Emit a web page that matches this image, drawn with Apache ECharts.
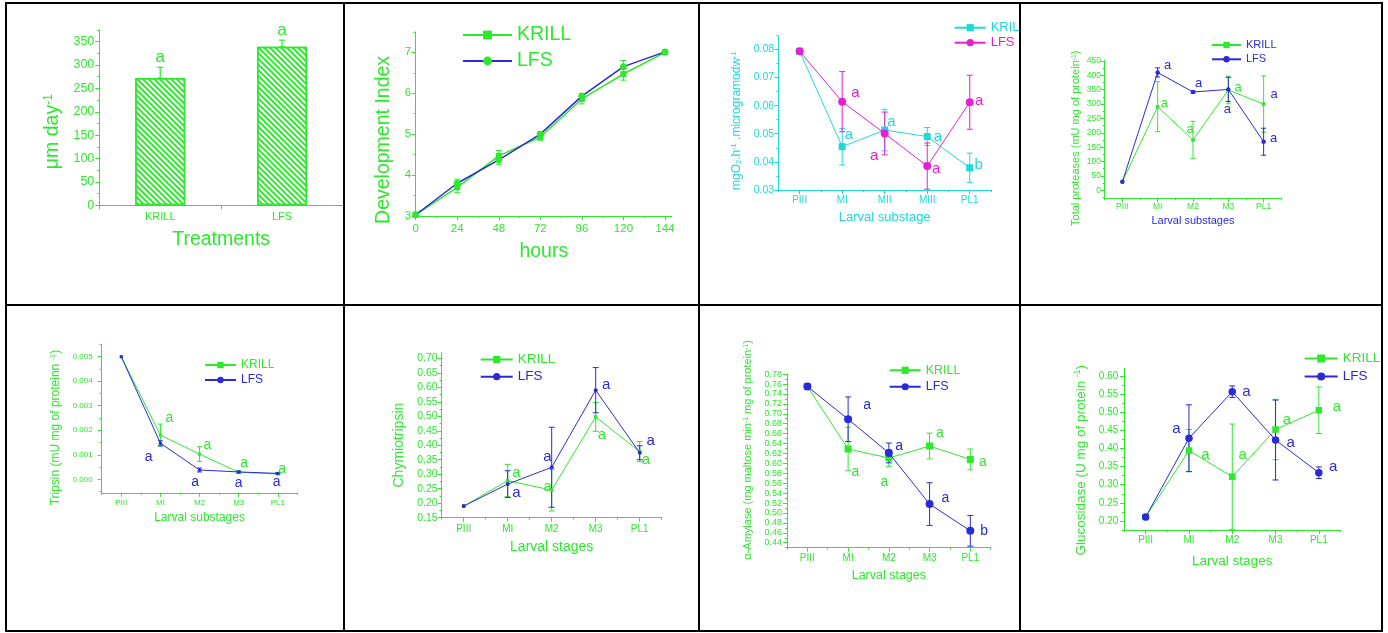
<!DOCTYPE html>
<html>
<head>
<meta charset="utf-8">
<title>Larval growth, development, respiration and digestive enzymes</title>
<script src="https://cdn.jsdelivr.net/npm/echarts@6.0.0/dist/echarts.min.js"></script>
<style>
html,body{margin:0;padding:0;background:#fff;}
body{width:1388px;height:633px;position:relative;overflow:hidden;}
.cell{position:absolute;overflow:hidden;}
.rule{position:absolute;background:#000;}
</style>
</head>
<body>
<div class="rule" style="left:5px;top:2px;width:1378px;height:2px"></div>
<div class="rule" style="left:5px;top:304px;width:1378px;height:2px"></div>
<div class="rule" style="left:5px;top:630px;width:1378px;height:2px"></div>
<div class="rule" style="left:5px;top:2px;width:2px;height:630px"></div>
<div class="rule" style="left:343px;top:2px;width:2px;height:630px"></div>
<div class="rule" style="left:698px;top:2px;width:2px;height:630px"></div>
<div class="rule" style="left:1019px;top:2px;width:2px;height:630px"></div>
<div class="rule" style="left:1381px;top:2px;width:2px;height:630px"></div>
<div id="c1" class="cell"></div>
<div id="c2" class="cell"></div>
<div id="c3" class="cell"></div>
<div id="c4" class="cell"></div>
<div id="c5" class="cell"></div>
<div id="c6" class="cell"></div>
<div id="c7" class="cell"></div>
<div id="c8" class="cell"></div>
<script>
// ================= DATA =================
const seriesNames = ['KRILL', 'LFS'];
const stagesRoman = ['PIII', 'MI', 'MII', 'MIII', 'PL1'];
const stagesM = ['PIII', 'MI', 'M2', 'M3', 'PL1'];

// Panel 1 - growth (bars)
const p1Treatments = ['KRILL', 'LFS'];
const p1Growth = [272, 339];
const p1GrowthErr = [23, 14];
const p1Letters = ['a', 'a'];
const p1YTicks = [0, 50, 100, 150, 200, 250, 300, 350];

// Panel 2 - development index
const p2Hours = [0, 24, 48, 72, 96, 120, 144];
const p2Krill = [3.03, 3.70, 4.47, 4.93, 5.86, 6.47, 7.00];
const p2KrillErr = [0, 0.13, 0.13, 0.08, 0.12, 0.15, 0.03];
const p2Lfs = [3.03, 3.80, 4.37, 5.00, 5.93, 6.65, 7.01];
const p2LfsErr = [0, 0.10, 0.12, 0.06, 0.06, 0.15, 0.03];
const p2XTicks = [0, 24, 48, 72, 96, 120, 144];
const p2YTicks = [3, 4, 5, 6, 7];

// Panel 3 - oxygen consumption
const p3Krill = [0.0793, 0.0454, 0.0513, 0.0490, 0.0379];
const p3KrillErr = [0, 0.0065, 0.0074, 0.0032, 0.0052];
const p3Lfs = [0.0793, 0.0614, 0.0501, 0.0385, 0.0612];
const p3LfsErr = [0, 0.0107, 0.0076, 0.0082, 0.0096];
const p3KrillLetters = [[1.16, 0.0495, 'a'], [2.16, 0.0541, 'a'], [3.25, 0.0490, 'a'], [4.21, 0.0391, 'b']];
const p3LfsLetters = [[1.31, 0.0646, 'a'], [1.75, 0.0421, 'a'], [3.21, 0.0375, 'a'], [4.22, 0.0616, 'a']];
const p3YTicks = [0.03, 0.04, 0.05, 0.06, 0.07, 0.08];

// Panel 4 - total proteases
const p4Krill = [30, 291, 175, 349, 300];
const p4KrillErr = [0, 87, 65, 48, 98];
const p4Lfs = [30, 410, 342, 351, 169];
const p4LfsErr = [0, 16, 4, 42, 47];
const p4KrillLetters = [[1.19, 303, 'a'], [1.92, 212, 'a'], [3.28, 357, 'a']];
const p4LfsLetters = [[1.28, 436, 'a'], [2.16, 372, 'a'], [2.97, 280, 'a'], [4.30, 335, 'a'], [4.28, 181, 'a']];
const p4YTicks = [0, 50, 100, 150, 200, 250, 300, 350, 400, 450];

// Panel 5 - trypsin
const p5Krill = [0.0050, 0.0018, 0.00103, 0.00029, 0.00022];
const p5KrillErr = [0, 0.00045, 0.0003, 0.00005, 0.00003];
const p5Lfs = [0.0050, 0.00147, 0.00038, 0.00030, 0.00024];
const p5LfsErr = [0, 0.0001, 0.00008, 0.00004, 0.00004];
const p5KrillLetters = [[1.23, 0.00249, 'a'], [2.20, 0.0014, 'a'], [3.14, 0.00065, 'a'], [4.11, 0.00041, 'a']];
const p5LfsLetters = [[0.70, 0.00092, 'a'], [1.89, -0.00012, 'a'], [3.00, -0.00016, 'a'], [3.97, -0.00012, 'a']];
const p5YTicks = [0, 0.001, 0.002, 0.003, 0.004, 0.005];

// Panel 6 - chymotrypsin
const p6Krill = [0.19, 0.278, 0.245, 0.498, 0.378];
const p6KrillErr = [0, 0.056, 0.072, 0.05, 0.035];
const p6Lfs = [0.19, 0.266, 0.324, 0.590, 0.374];
const p6LfsErr = [0, 0.046, 0.138, 0.078, 0.024];
const p6KrillLetters = [[1.20, 0.306, 'a'], [1.91, 0.257, 'a'], [3.14, 0.437, 'a'], [4.14, 0.349, 'a']];
const p6LfsLetters = [[1.20, 0.236, 'a'], [1.90, 0.360, 'a'], [3.24, 0.607, 'a'], [4.25, 0.414, 'a']];
const p6YTicks = [0.15, 0.20, 0.25, 0.30, 0.35, 0.40, 0.45, 0.50, 0.55, 0.60, 0.65, 0.70];

// Panel 7 - alpha-amylase
const p7Krill = [0.755, 0.629, 0.611, 0.635, 0.608];
const p7KrillErr = [0, 0.044, 0.017, 0.026, 0.021];
const p7Lfs = [0.755, 0.689, 0.621, 0.518, 0.464];
const p7LfsErr = [0, 0.045, 0.020, 0.043, 0.031];
const p7KrillLetters = [[1.18, 0.583, 'a'], [1.89, 0.562, 'a'], [3.25, 0.660, 'a'], [4.31, 0.603, 'a']];
const p7LfsLetters = [[1.47, 0.7175, 'a'], [2.25, 0.635, 'a'], [3.39, 0.529, 'a'], [4.34, 0.464, 'b']];
const p7YTicks = [0.44, 0.46, 0.48, 0.50, 0.52, 0.54, 0.56, 0.58, 0.60, 0.62, 0.64, 0.66, 0.68, 0.70, 0.72, 0.74, 0.76, 0.78];

// Panel 8 - glucosidase
const p8Krill = [0.211, 0.394, 0.322, 0.452, 0.505];
const p8KrillErr = [0, 0.058, 0.145, 0.083, 0.064];
const p8Lfs = [0.211, 0.428, 0.556, 0.423, 0.333];
const p8LfsErr = [0, 0.092, 0.016, 0.110, 0.016];
const p8KrillLetters = [[1.38, 0.383, 'a'], [2.24, 0.383, 'a'], [3.26, 0.478, 'a'], [4.42, 0.513, 'a']];
const p8LfsLetters = [[0.71, 0.455, 'a'], [2.33, 0.556, 'a'], [3.35, 0.416, 'a'], [4.33, 0.350, 'a']];
const p8YTicks = [0.20, 0.25, 0.30, 0.35, 0.40, 0.45, 0.50, 0.55, 0.60];

// ================= STYLE / HELPERS =================
const FONT = '"Liberation Sans", Arial, Helvetica, sans-serif';
const G = '#2ee82e', B = '#2a2ad8', C = '#1cdada', M = '#e81ed2';

const CELLS = {
  c1: [7, 4, 336, 300], c2: [345, 4, 353, 300], c3: [700, 4, 319, 300], c4: [1021, 4, 360, 300],
  c5: [7, 306, 336, 324], c6: [345, 306, 353, 324], c7: [700, 306, 319, 324], c8: [1021, 306, 360, 324]
};

function initCell(id) {
  const c = CELLS[id];
  const el = document.getElementById(id);
  el.style.left = c[0] + 'px'; el.style.top = c[1] + 'px';
  el.style.width = c[2] + 'px'; el.style.height = c[3] + 'px';
  return echarts.init(el, null, { renderer: 'canvas' });
}

function minorValues(min, max, step, majors) {
  const out = [];
  const k0 = Math.ceil(min / step - 1e-9);
  for (let k = k0; k * step <= max + step * 1e-6; k++) {
    const v = +(k * step).toFixed(10);
    if (!majors.some(m => Math.abs(m - v) < step * 1e-4)) out.push(v);
  }
  return out;
}

function rich(size, color) {
  const s = Math.round(size * 0.62 * 10) / 10;
  return {
    n: { fontFamily: FONT, fontSize: size, color: color },
    s: { fontFamily: FONT, fontSize: s, color: color, verticalAlign: 'top' },
    b: { fontFamily: FONT, fontSize: s, color: color, verticalAlign: 'bottom' }
  };
}

// shift > 0 moves a rotated y-axis name downwards, < 0 upwards
function namePad(shift) {
  return shift >= 0 ? [0, 2 * shift, 0, 0] : [0, 0, 0, -2 * shift];
}

function errRenderer(color, capHalf, lw) {
  return function (params, api) {
    const x = api.value(0);
    const a = api.coord([x, api.value(1)]);
    const b = api.coord([x, api.value(2)]);
    const st = { stroke: color, lineWidth: lw };
    return {
      type: 'group', children: [
        { type: 'line', shape: { x1: a[0], y1: a[1], x2: b[0], y2: b[1] }, style: st },
        { type: 'line', shape: { x1: a[0] - capHalf, y1: a[1], x2: a[0] + capHalf, y2: a[1] }, style: st },
        { type: 'line', shape: { x1: b[0] - capHalf, y1: b[1], x2: b[0] + capHalf, y2: b[1] }, style: st }
      ]
    };
  };
}

function letterSeries(letters, color, size) {
  return {
    type: 'custom', silent: true, z: 5, clip: false,
    dimensions: ['x', 'y', 'f'],
    encode: { x: 0, y: 1 },
    data: letters.map(l => { const b = Math.round(l[0]); return [b, l[1], l[0] - b]; }),
    renderItem: function (params, api) {
      const p = api.coord([api.value(0), api.value(1)]);
      const bw = api.size([1, 0])[0];
      return {
        type: 'text', x: p[0] + api.value(2) * bw, y: p[1],
        style: {
          text: letters[params.dataIndex][2], fill: color,
          font: size + 'px ' + FONT, fontSize: size, fontFamily: FONT,
          align: 'center', verticalAlign: 'middle', textAlign: 'center', textVerticalAlign: 'middle'
        }
      };
    }
  };
}

function valueAxisPair(dim, o) {
  const isY = dim === 'y';
  const main = {
    type: 'value', min: o.min, max: o.max, position: isY ? 'left' : 'bottom',
    axisLine: { show: true, onZero: false, lineStyle: { color: o.color, width: 1 } },
    axisTick: { show: true, inside: false, length: 4, customValues: o.ticks, lineStyle: { color: o.color, width: 1 } },
    axisLabel: {
      show: true, customValues: o.ticks, margin: o.labelMargin, color: o.color,
      fontFamily: FONT, fontSize: o.labelSize, formatter: o.fmt
    },
    splitLine: { show: false },
    name: o.name, nameLocation: 'middle', nameGap: o.nameGap,
    nameTextStyle: {
      fontFamily: FONT, fontSize: o.nameSize, color: o.nameColor, rich: rich(o.nameSize, o.nameColor),
      padding: isY ? namePad(o.nameShift || 0) : 0
    }
  };
  const minor = {
    type: 'value', min: o.min, max: o.max, position: isY ? 'left' : 'bottom',
    axisLine: { show: false, onZero: false },
    axisTick: { show: true, inside: false, length: 2, customValues: minorValues(o.min, o.max, o.minorStep, o.ticks), lineStyle: { color: o.color, width: 1 } },
    axisLabel: { show: false }, splitLine: { show: false }
  };
  return [main, minor];
}

function categoryAxisPair(o) {
  const main = {
    type: 'category', data: o.cats, boundaryGap: true, position: 'bottom',
    axisLine: { show: true, onZero: false, lineStyle: { color: o.color, width: 1 } },
    axisTick: { show: true, inside: false, alignWithLabel: true, length: 4, lineStyle: { color: o.color, width: 1 } },
    axisLabel: { show: true, interval: 0, margin: o.labelMargin, color: o.color, fontFamily: FONT, fontSize: o.labelSize },
    splitLine: { show: false },
    name: o.name, nameLocation: 'middle', nameGap: o.nameGap,
    nameTextStyle: { fontFamily: FONT, fontSize: o.nameSize, color: o.nameColor }
  };
  const minor = {
    type: 'category', data: o.cats, boundaryGap: true, position: 'bottom',
    axisLine: { show: false, onZero: false },
    axisTick: { show: true, inside: false, alignWithLabel: false, interval: 0, length: 2, lineStyle: { color: o.color, width: 1 } },
    axisLabel: { show: false }, splitLine: { show: false }
  };
  return [main, minor];
}

function lineOption(p) {
  const cx = CELLS[p.cell][0], cy = CELLS[p.cell][1];
  const xAxes = p.xType === 'value'
    ? valueAxisPair('x', { min: p.xMin, max: p.xMax, ticks: p.xTicks, minorStep: p.xMinorStep, color: p.axisColor, labelMargin: p.xLabelMargin, labelSize: p.xLabelSize, fmt: v => String(v), name: p.xName, nameGap: p.xNameGap, nameSize: p.xNameSize, nameColor: p.xNameColor })
    : categoryAxisPair({ cats: p.cats, color: p.axisColor, labelMargin: p.xLabelMargin, labelSize: p.xLabelSize, name: p.xName, nameGap: p.xNameGap, nameSize: p.xNameSize, nameColor: p.xNameColor });
  const yAxes = valueAxisPair('y', { min: p.yMin, max: p.yMax, ticks: p.yTicks, minorStep: p.yMinorStep, color: p.axisColor, labelMargin: p.yLabelMargin, labelSize: p.yLabelSize, fmt: p.yFmt, name: p.yName, nameGap: p.yNameGap, nameSize: p.yNameSize, nameColor: p.yNameColor, nameShift: p.yNameShift });
  const series = [];
  p.series.forEach((s, si) => {
    const xs = s.x || s.y.map((v, i) => i);
    series.push({
      type: 'custom', name: s.name + ' error', silent: true, clip: true, z: 2 + si,
      encode: { x: 0, y: [1, 2] },
      data: s.y.map((v, i) => s.err[i] ? [xs[i], v - s.err[i], v + s.err[i]] : null).filter(d => d),
      renderItem: errRenderer(s.errColor, p.capHalf, 1)
    });
  });
  p.series.forEach((s, si) => {
    const xs = s.x || null;
    series.push({
      type: 'line', name: s.name, z: 3 + si,
      data: xs ? s.y.map((v, i) => [xs[i], v]) : s.y,
      symbol: s.symbol, symbolSize: s.symbolSize, showSymbol: true, showAllSymbol: true,
      lineStyle: { color: s.lineColor, width: s.lineWidth },
      itemStyle: { color: s.markColor },
      emphasis: { disabled: true }
    });
  });
  p.series.forEach(s => { if (s.letters) series.push(letterSeries(s.letters, s.letterColor, p.letterSize)); });
  const L = p.legend;
  return {
    animation: false,
    textStyle: { fontFamily: FONT },
    grid: { left: p.x0 - cx, top: p.yTop - cy, width: p.x1 - p.x0, height: p.yBot - p.yTop, containLabel: false },
    xAxis: xAxes, yAxis: yAxes,
    legend: {
      orient: 'vertical', left: L.left - cx, top: L.top - cy, padding: 0,
      itemWidth: L.itemWidth, itemHeight: L.itemHeight, itemGap: L.gap, selectedMode: false,
      textStyle: { fontFamily: FONT, fontSize: L.fontSize },
      data: seriesNames.map((n, i) => ({ name: n, textStyle: { color: L.colors[i], fontSize: L.fontSize, fontFamily: FONT } }))
    },
    series: series
  };
}

// ================= PANEL 1 (bars) =================
(function () {
  const chart = initCell('c1');
  const cx = CELLS.c1[0], cy = CELLS.c1[1];
  const yAx = valueAxisPair('y', {
    min: 0, max: 375, ticks: p1YTicks, minorStep: 25, color: G, labelMargin: 5, labelSize: 12.5,
    fmt: v => String(v), name: '{n|μm day}{s|-1}', nameGap: 30, nameSize: 19.5, nameColor: G, nameShift: 14
  });
  chart.setOption({
    animation: false,
    textStyle: { fontFamily: FONT },
    grid: { left: 99.3 - cx, top: 29.9 - cy, width: 344 - 99.3, height: 205.3 - 29.9, containLabel: false },
    xAxis: [{
      type: 'category', data: p1Treatments, boundaryGap: true, position: 'bottom',
      axisLine: { show: true, onZero: false, lineStyle: { color: G, width: 1 } },
      axisTick: { show: true, length: 4, lineStyle: { color: G } },
      axisLabel: { interval: 0, margin: 6, color: G, fontFamily: FONT, fontSize: 11 },
      name: 'Treatments', nameLocation: 'middle', nameGap: 24,
      nameTextStyle: { fontFamily: FONT, fontSize: 19.5, color: G }
    }],
    yAxis: yAx,
    series: [
      {
        type: 'bar', data: p1Growth, barWidth: 50, z: 2,
        itemStyle: {
          color: '#ffffff', borderColor: G, borderWidth: 1.5,
          decal: { symbol: 'rect', symbolSize: 1, color: G, dashArrayX: [1, 0], dashArrayY: [1.3, 1.9], rotation: Math.PI / 4 }
        },
        emphasis: { disabled: true }
      },
      {
        type: 'custom', silent: true, z: 3, encode: { x: 0, y: [1, 2] },
        data: p1Growth.map((v, i) => [i, v, v + p1GrowthErr[i]]),
        renderItem: errRenderer(G, 3, 1.2)
      },
      {
        type: 'custom', silent: true, z: 4, encode: { x: 0, y: 1 },
        data: p1Growth.map((v, i) => [i, v + p1GrowthErr[i]]),
        renderItem: function (params, api) {
          const pt = api.coord([api.value(0), api.value(1)]);
          return {
            type: 'text', x: pt[0], y: pt[1] - 10,
            style: { text: p1Letters[params.dataIndex], fill: G, font: '17px ' + FONT, fontSize: 17, fontFamily: FONT, align: 'center', verticalAlign: 'middle', textAlign: 'center', textVerticalAlign: 'middle' }
          };
        }
      }
    ]
  });
})();

// ================= PANELS 2-8 (lines) =================
const panels = [
  {
    cell: 'c2', x0: 415.7, x1: 671.9, yTop: 31.85, yBot: 216, axisColor: G,
    xType: 'value', xMin: 0, xMax: 148, xTicks: p2XTicks, xMinorStep: 12,
    yMin: 3, yMax: 7.5, yTicks: p2YTicks, yMinorStep: 0.5, yFmt: v => String(v),
    yLabelSize: 11.5, yLabelMargin: 4.5, xLabelSize: 11.5, xLabelMargin: 7,
    yName: 'Development Index', yNameSize: 19.5, yNameGap: 21, yNameColor: G, yNameShift: 16,
    xName: 'hours', xNameSize: 19.5, xNameGap: 26, xNameColor: G,
    capHalf: 3, letterSize: 15,
    series: [
      { name: 'KRILL', x: p2Hours, y: p2Krill, err: p2KrillErr, lineColor: G, lineWidth: 1.5, symbol: 'rect', symbolSize: 6, markColor: G, errColor: G },
      { name: 'LFS', x: p2Hours, y: p2Lfs, err: p2LfsErr, lineColor: B, lineWidth: 1.5, symbol: 'circle', symbolSize: 7, markColor: G, errColor: G }
    ],
    legend: { left: 462, top: 25, itemWidth: 49, itemHeight: 11, fontSize: 19.5, gap: 6, colors: [G, G] }
  },
  {
    cell: 'c3', x0: 778.4, x1: 991, yTop: 35.3, yBot: 190, axisColor: C, cats: stagesRoman,
    yMin: 0.03, yMax: 0.085, yTicks: p3YTicks, yMinorStep: 0.005, yFmt: v => v.toFixed(2),
    yLabelSize: 10.5, yLabelMargin: 4.3, xLabelSize: 10, xLabelMargin: 5,
    yName: '{n|mgO}{b|2}{n|.h}{s|-1}{n| .microgramodw}{s|-1}', yNameSize: 12, yNameGap: 30, yNameColor: C, yNameShift: 8,
    xName: 'Larval substage', xNameSize: 13, xNameGap: 21, xNameColor: C,
    capHalf: 3, letterSize: 15,
    series: [
      { name: 'KRILL', y: p3Krill, err: p3KrillErr, lineColor: C, lineWidth: 1, symbol: 'rect', symbolSize: 7, markColor: C, errColor: C, letters: p3KrillLetters, letterColor: C },
      { name: 'LFS', y: p3Lfs, err: p3LfsErr, lineColor: M, lineWidth: 1, symbol: 'circle', symbolSize: 8, markColor: M, errColor: M, letters: p3LfsLetters, letterColor: M }
    ],
    legend: { left: 953.7, top: 21.2, itemWidth: 31, itemHeight: 9, fontSize: 13, gap: 2, colors: [C, M] }
  },
  {
    cell: 'c4', x0: 1104.7, x1: 1281.3, yTop: 60.1, yBot: 198.35, axisColor: G, cats: stagesM,
    yMin: -28, yMax: 453, yTicks: p4YTicks, yMinorStep: 25, yFmt: v => String(v),
    yLabelSize: 8.5, yLabelMargin: 3.7, xLabelSize: 8.5, xLabelMargin: 3.4,
    yName: '{n|Total proteases (mU mg of protein}{s|-1}{n|)}', yNameSize: 11, yNameGap: 23, yNameColor: G, yNameShift: 9,
    xName: 'Larval substages', xNameSize: 11, xNameGap: 17, xNameColor: B,
    capHalf: 2.5, letterSize: 13,
    series: [
      { name: 'KRILL', y: p4Krill, err: p4KrillErr, lineColor: G, lineWidth: 1, symbol: 'rect', symbolSize: 3.5, markColor: G, errColor: G, letters: p4KrillLetters, letterColor: G },
      { name: 'LFS', y: p4Lfs, err: p4LfsErr, lineColor: B, lineWidth: 1, symbol: 'circle', symbolSize: 4.5, markColor: B, errColor: B, letters: p4LfsLetters, letterColor: B }
    ],
    legend: { left: 1211, top: 39.5, itemWidth: 29, itemHeight: 8, fontSize: 11, gap: 3.3, colors: [B, B] }
  },
  {
    cell: 'c5', x0: 101.7, x1: 297.4, yTop: 344.4, yBot: 492.8, axisColor: G, cats: stagesM,
    yMin: -0.00055, yMax: 0.0055, yTicks: p5YTicks, yMinorStep: 0.0005, yFmt: v => v.toFixed(3),
    yLabelSize: 8, yLabelMargin: 9, xLabelSize: 8, xLabelMargin: 6,
    yName: '{n|Tripsin (mU mg of proteinn }{s|-1}{n|)}', yNameSize: 12, yNameGap: 32, yNameColor: G, yNameShift: 9,
    xName: 'Larval substages', xNameSize: 12, xNameGap: 19, xNameColor: G,
    capHalf: 2.5, letterSize: 14,
    series: [
      { name: 'KRILL', y: p5Krill, err: p5KrillErr, lineColor: G, lineWidth: 1, symbol: 'rect', symbolSize: 3, markColor: G, errColor: G, letters: p5KrillLetters, letterColor: G },
      { name: 'LFS', y: p5Lfs, err: p5LfsErr, lineColor: B, lineWidth: 1, symbol: 'circle', symbolSize: 3.5, markColor: B, errColor: B, letters: p5LfsLetters, letterColor: B }
    ],
    legend: { left: 204, top: 359, itemWidth: 31, itemHeight: 8, fontSize: 12, gap: 3, colors: [G, B] }
  },
  {
    cell: 'c6', x0: 441.7, x1: 661.7, yTop: 352.5, yBot: 517.7, axisColor: G, cats: stagesM,
    yMin: 0.15, yMax: 0.72, yTicks: p6YTicks, yMinorStep: 0.025, yFmt: v => v.toFixed(2),
    yLabelSize: 10.5, yLabelMargin: 4, xLabelSize: 10, xLabelMargin: 6.3,
    yName: 'Chymiotripsin', yNameSize: 14, yNameGap: 30, yNameColor: G, yNameShift: 10,
    xName: 'Larval stages', xNameSize: 14, xNameGap: 22.6, xNameColor: G,
    capHalf: 3, letterSize: 15,
    series: [
      { name: 'KRILL', y: p6Krill, err: p6KrillErr, lineColor: G, lineWidth: 1, symbol: 'rect', symbolSize: 3.5, markColor: G, errColor: G, letters: p6KrillLetters, letterColor: G },
      { name: 'LFS', y: p6Lfs, err: p6LfsErr, lineColor: B, lineWidth: 1, symbol: 'circle', symbolSize: 4, markColor: B, errColor: B, letters: p6LfsLetters, letterColor: B }
    ],
    legend: { left: 479.7, top: 352.5, itemWidth: 32, itemHeight: 9, fontSize: 13.5, gap: 3.2, colors: [G, B] }
  },
  {
    cell: 'c7', x0: 787, x1: 990.7, yTop: 374.1, yBot: 547.7, axisColor: G, cats: stagesM,
    yMin: 0.43, yMax: 0.78, yTicks: p7YTicks, yMinorStep: 0.01, yFmt: v => v.toFixed(2),
    yLabelSize: 9, yLabelMargin: 5, xLabelSize: 10, xLabelMargin: 5.6,
    yName: '{n|α-Amylase (mg maltose min}{s|-1}{n| mg of protein}{s|-1}{n|)}', yNameSize: 11, yNameGap: 29.5, yNameColor: G, yNameShift: -11,
    xName: 'Larval stages', xNameSize: 12.5, xNameGap: 21.8, xNameColor: G,
    capHalf: 3, letterSize: 14,
    series: [
      { name: 'KRILL', y: p7Krill, err: p7KrillErr, lineColor: G, lineWidth: 1, symbol: 'rect', symbolSize: 7, markColor: G, errColor: G, letters: p7KrillLetters, letterColor: G },
      { name: 'LFS', y: p7Lfs, err: p7LfsErr, lineColor: B, lineWidth: 1, symbol: 'circle', symbolSize: 8, markColor: B, errColor: B, letters: p7LfsLetters, letterColor: B }
    ],
    legend: { left: 888.7, top: 363.75, itemWidth: 31, itemHeight: 9, fontSize: 12.5, gap: 3.5, colors: [G, B] }
  },
  {
    cell: 'c8', x0: 1124, x1: 1340.5, yTop: 368.5, yBot: 530.1, axisColor: G, cats: stagesM,
    yMin: 0.175, yMax: 0.62, yTicks: p8YTicks, yMinorStep: 0.025, yFmt: v => v.toFixed(2),
    yLabelSize: 10, yLabelMargin: 5.7, xLabelSize: 10, xLabelMargin: 5.3,
    yName: '{n|Glucosidase (U mg of protein }{s|-1}{n|)}', yNameSize: 13.5, yNameGap: 30.7, yNameColor: G, yNameShift: 11,
    xName: 'Larval stages', xNameSize: 13.5, xNameGap: 24.6, xNameColor: G,
    capHalf: 3, letterSize: 15,
    series: [
      { name: 'KRILL', y: p8Krill, err: p8KrillErr, lineColor: G, lineWidth: 1, symbol: 'rect', symbolSize: 6.5, markColor: G, errColor: G, letters: p8KrillLetters, letterColor: G },
      { name: 'LFS', y: p8Lfs, err: p8LfsErr, lineColor: B, lineWidth: 1, symbol: 'circle', symbolSize: 7.5, markColor: B, errColor: B, letters: p8LfsLetters, letterColor: B }
    ],
    legend: { left: 1303.7, top: 351.5, itemWidth: 33, itemHeight: 10, fontSize: 13.5, gap: 3.9, colors: [G, B] }
  }
];

panels.forEach(p => {
  const chart = initCell(p.cell);
  chart.setOption(lineOption(p));
});
</script>
</body>
</html>
